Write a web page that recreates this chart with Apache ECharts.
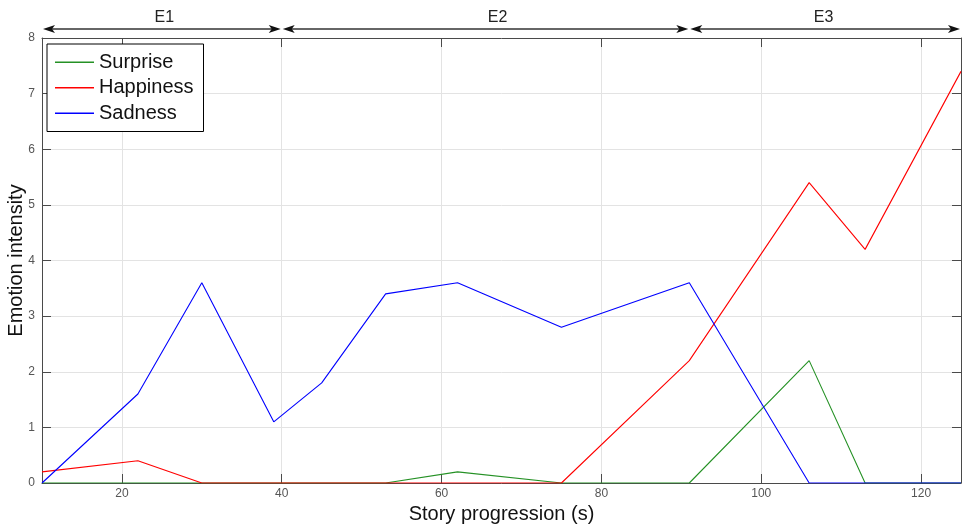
<!DOCTYPE html>
<html>
<head>
<meta charset="utf-8">
<script src="https://cdn.jsdelivr.net/npm/echarts@6/dist/echarts.min.js"></script>
<style>
html,body{margin:0;padding:0;background:#fff;}
#chart{width:962px;height:525px;}
</style>
</head>
<body>
<div id="chart"></div>
<script>
// ---- data ----
var times = [10, 22, 30, 39, 45, 53, 62, 75, 91, 106, 113, 125];
var surprise  = [0, 0, 0, 0, 0, 0, 0.2, 0, 0, 2.2, 0, 0];
var happiness = [0.2, 0.4, 0, 0, 0, 0, 0, 0, 2.2, 5.4, 4.2, 7.4];
var sadness   = [0, 1.6, 3.6, 1.1, 1.8, 3.4, 3.6, 2.8, 3.6, 0, 0, 0];
var seriesNames = ['Surprise', 'Happiness', 'Sadness'];
var episodeNames = ['E1', 'E2', 'E3'];
var episodeBounds = [10, 40, 91, 125];
var episodeLabelX = [25.3, 67, 107.8];
var yAxisTitle = 'Emotion intensity';
var xAxisTitle = 'Story progression (s)';

function pairs(xs, ys) { return xs.map(function (x, i) { return [x, ys[i]]; }); }

var FONT = 'Liberation Sans, Arial, Helvetica, sans-serif';
var AXIS_COLOR = '#4a4a4a';
var chart = echarts.init(document.getElementById('chart'));

var option = {
  animation: false,
  backgroundColor: '#fff',
  textStyle: { fontFamily: FONT },
  grid: { left: 42, right: 1, top: 38, bottom: 42, containLabel: false, outerBoundsMode: 'none' },
  legend: {
    orient: 'vertical',
    left: 47, top: 44,
    padding: [8, 10, 8, 8],
    itemGap: 5,
    itemWidth: 39,
    itemHeight: 1.5,
    icon: 'rect',
    backgroundColor: '#fff',
    borderColor: '#000',
    borderWidth: 1,
    borderRadius: 0,
    textStyle: { fontSize: 20, color: '#111', fontFamily: FONT, lineHeight: 20.5 },
    data: seriesNames
  },
  xAxis: [{
    type: 'value', min: 10, max: 125,
    name: xAxisTitle, nameLocation: 'middle', nameGap: 19,
    nameTextStyle: { fontSize: 20, color: '#111', fontFamily: FONT },
    axisLine: { show: true, onZero: false, lineStyle: { color: AXIS_COLOR, width: 1 } },
    axisTick: { show: true, inside: true, length: 9, lineStyle: { color: AXIS_COLOR } },
    axisLabel: { fontSize: 12, color: '#555', margin: 5, showMinLabel: false, showMaxLabel: false, fontFamily: FONT },
    splitLine: { show: true, lineStyle: { color: '#e3e3e3', width: 1 } }
  }, {
    type: 'value', min: 10, max: 125, position: 'top',
    axisLine: { show: true, onZero: false, lineStyle: { color: AXIS_COLOR, width: 1 } },
    axisTick: { show: true, inside: true, length: 9, lineStyle: { color: AXIS_COLOR } },
    axisLabel: { show: false },
    splitLine: { show: false }
  }],
  yAxis: [{
    type: 'value', min: 0, max: 8, interval: 1,
    axisLine: { show: true, onZero: false, lineStyle: { color: AXIS_COLOR, width: 1 } },
    axisTick: { show: true, inside: true, length: 9, lineStyle: { color: AXIS_COLOR } },
    axisLabel: { fontSize: 12, color: '#555', margin: 7, fontFamily: FONT },
    splitLine: { show: true, lineStyle: { color: '#e3e3e3', width: 1 } }
  }, {
    type: 'value', min: 0, max: 8, interval: 1, position: 'right',
    axisLine: { show: true, onZero: false, lineStyle: { color: AXIS_COLOR, width: 1 } },
    axisTick: { show: true, inside: true, length: 9, lineStyle: { color: AXIS_COLOR } },
    axisLabel: { show: false },
    splitLine: { show: false }
  }],
  series: [
    { name: 'Surprise', type: 'line', symbol: 'none', data: pairs(times, surprise),
      lineStyle: { color: '#259125', width: 1.1 }, itemStyle: { color: '#259125' }, z: 2 },
    { name: 'Happiness', type: 'line', symbol: 'none', data: pairs(times, happiness),
      lineStyle: { color: '#ff0000', width: 1.1 }, itemStyle: { color: '#ff0000' }, z: 3 },
    { name: 'Sadness', type: 'line', symbol: 'none', data: pairs(times, sadness),
      lineStyle: { color: '#0000ff', width: 1.1 }, itemStyle: { color: '#0000ff' }, z: 4 }
  ]
};
chart.setOption(option);

// ---- episode arrows above the plot, y-axis title ----
var gridTop = 38, gridBottom = 42, H = 525;
var arrowY = gridTop - 9;
var headLen = 12, headHalf = 4, notch = 3;
var graphics = [];
function px(v) { return chart.convertToPixel({ xAxisIndex: 0 }, v); }
for (var i = 0; i < episodeNames.length; i++) {
  var x0 = px(episodeBounds[i]) + 1;
  var x1 = px(episodeBounds[i + 1]) - 1;
  graphics.push({
    type: 'line', silent: true,
    shape: { x1: x0 + 4, y1: arrowY, x2: x1 - 4, y2: arrowY },
    style: { stroke: '#333', lineWidth: 1.4 }
  });
  graphics.push({
    type: 'polygon', silent: true,
    shape: { points: [[x0, arrowY], [x0 + headLen, arrowY - headHalf], [x0 + headLen - notch, arrowY], [x0 + headLen, arrowY + headHalf]] },
    style: { fill: '#111' }
  });
  graphics.push({
    type: 'polygon', silent: true,
    shape: { points: [[x1, arrowY], [x1 - headLen, arrowY - headHalf], [x1 - headLen + notch, arrowY], [x1 - headLen, arrowY + headHalf]] },
    style: { fill: '#111' }
  });
  graphics.push({
    type: 'text', silent: true,
    x: px(episodeLabelX[i]), y: arrowY - 11,
    style: { text: episodeNames[i], fontSize: 16, fontFamily: FONT, fill: '#222', align: 'center', verticalAlign: 'middle' }
  });
}
graphics.push({
  type: 'text', silent: true,
  x: 16, y: (gridTop + (H - gridBottom)) / 2,
  rotation: Math.PI / 2,
  style: { text: yAxisTitle, fontSize: 20, fontFamily: FONT, fill: '#111', align: 'center', verticalAlign: 'middle' }
});
chart.setOption({ graphic: graphics });
</script>
</body>
</html>
